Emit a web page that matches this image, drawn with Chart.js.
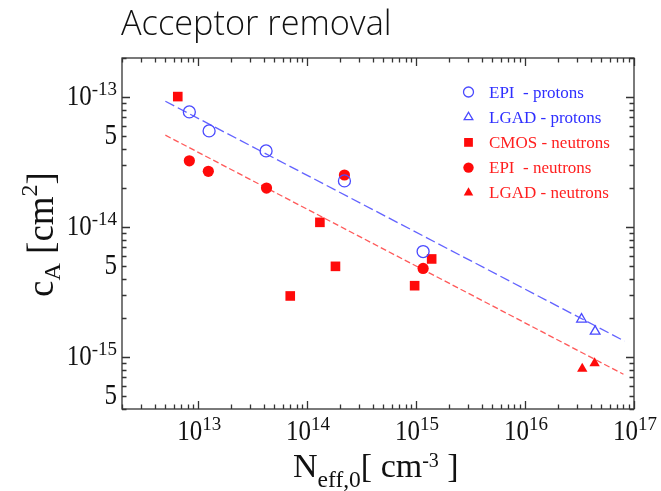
<!DOCTYPE html>
<html>
<head>
<meta charset="utf-8">
<script src="https://cdn.jsdelivr.net/npm/chart.js@4"></script>
<style>
  html, body { margin: 0; padding: 0; background: #fff; }
  #wrap { position: relative; width: 661px; height: 491px; }
</style>
</head>
<body>
<div id="wrap"><canvas id="c"></canvas></div>
<script>
// Acceptor removal coefficient c_A versus initial doping N_eff,0
const epiProtonsX   = [8.3e12, 1.26e13, 4.2e13, 2.2e14, 1.16e15];
const epiProtonsY   = [7.7e-14, 5.5e-14, 3.86e-14, 2.27e-14, 6.5e-15];
const lgadProtonsX  = [3.3e16, 4.4e16];
const lgadProtonsY  = [1.96e-15, 1.58e-15];
const cmosNeutronsX = [6.5e12, 7.0e13, 1.31e14, 1.82e14, 9.7e14, 1.39e15];
const cmosNeutronsY = [1.01e-13, 2.96e-15, 1.09e-14, 5.0e-15, 3.55e-15, 5.7e-15];
const epiNeutronsX  = [8.3e12, 1.24e13, 4.24e13, 2.2e14, 1.16e15];
const epiNeutronsY  = [3.24e-14, 2.69e-14, 2.0e-14, 2.52e-14, 4.82e-15];
const lgadNeutronsX = [3.35e16, 4.35e16];
const lgadNeutronsY = [8.15e-16, 9.0e-16];

// power-law fits (end points)
const protonFitX  = [5e12, 8.2e16];
const protonFitY  = [9.3e-14, 1.33e-15];
const neutronFitX = [5e12, 8.0e16];
const neutronFitY = [5.1e-14, 7.4e-16];

const seriesLabels = ['EPI  - protons', 'LGAD - protons', 'CMOS - neutrons', 'EPI  - neutrons', 'LGAD - neutrons'];
const xTickValues = [1e13, 1e14, 1e15, 1e16, 1e17];
const yTickValues = [1e-13, 5e-14, 1e-14, 5e-15, 1e-15, 5e-16];

const BLUE = '#4a4aff';
const BLUE_TEXT = '#2f2fff';
const RED = '#ff0a0a';
const RED_TEXT = '#ff1f1f';
const SERIF = '"Liberation Serif", "Times New Roman", serif';

const pts = (xs, ys) => xs.map((x, i) => ({ x, y: ys[i] }));

const datasets = [
  { label: seriesLabels[0], data: pts(epiProtonsX, epiProtonsY), pointStyle: 'circle', pointRadius: 6,
    borderColor: BLUE, backgroundColor: 'rgba(0,0,0,0)', borderWidth: 1.3, legendRadius: 5, textColor: BLUE_TEXT },
  { label: seriesLabels[1], data: pts(lgadProtonsX, lgadProtonsY), pointStyle: 'triangle', pointRadius: 5.6,
    borderColor: BLUE, backgroundColor: 'rgba(0,0,0,0)', borderWidth: 1.3, legendRadius: 5, textColor: BLUE_TEXT },
  { label: seriesLabels[2], data: pts(cmosNeutronsX, cmosNeutronsY), pointStyle: 'rect', pointRadius: 6.8,
    borderColor: RED, backgroundColor: RED, borderWidth: 0, legendRadius: 6.2, textColor: RED_TEXT },
  { label: seriesLabels[3], data: pts(epiNeutronsX, epiNeutronsY), pointStyle: 'circle', pointRadius: 5.6,
    borderColor: RED, backgroundColor: RED, borderWidth: 0, legendRadius: 5.2, textColor: RED_TEXT },
  { label: seriesLabels[4], data: pts(lgadNeutronsX, lgadNeutronsY), pointStyle: 'triangle', pointRadius: 6,
    borderColor: RED, backgroundColor: RED, borderWidth: 0, legendRadius: 5.5, textColor: RED_TEXT },
  { label: 'protons fit', data: pts(protonFitX, protonFitY), showLine: true, pointRadius: 0,
    borderColor: 'rgba(70,70,255,0.85)', borderWidth: 1.3, borderDash: [10, 4], fill: false },
  { label: 'neutrons fit', data: pts(neutronFitX, neutronFitY), showLine: true, pointRadius: 0,
    borderColor: 'rgba(255,60,60,0.85)', borderWidth: 1.3, borderDash: [6, 3], fill: false }
];

function font(size) { return size + 'px ' + SERIF; }

// draw a run of text pieces (with sub/superscripts) starting at x on baseline y
function richWidth(ctx, parts) {
  let w = 0;
  for (const p of parts) { ctx.font = p.font; w += ctx.measureText(p.t).width * (p.sx || 1); }
  return w;
}
function drawRich(ctx, parts, x, y) {
  let cx = x;
  for (const p of parts) {
    ctx.font = p.font;
    ctx.save();
    ctx.translate(cx, y + (p.dy || 0));
    ctx.scale(p.sx || 1, p.sy || 1);
    ctx.fillText(p.t, 0, 0);
    ctx.restore();
    cx += ctx.measureText(p.t).width * (p.sx || 1);
  }
}
function tickParts(v) {
  const e = Math.floor(Math.log10(v) + 1e-9);
  const m = Math.round(v / Math.pow(10, e));
  if (m === 1) {
    return [{ t: '10', font: font(25), sy: 1.17 }, { t: String(e), font: font(19), dy: -10 }];
  }
  return [{ t: String(m), font: font(25), sy: 1.17 }];
}

const decorations = {
  id: 'decorations',
  afterDraw(chart) {
    const ctx = chart.ctx;
    const xs = chart.scales.x, ys = chart.scales.y;
    const a = chart.chartArea;
    ctx.save();

    // heading
    ctx.fillStyle = '#111';
    ctx.textAlign = 'left';
    ctx.textBaseline = 'alphabetic';
    ctx.font = '300 34.3px "Open Sans", sans-serif';
    ctx.fillText('Acceptor removal', 121, 35);

    // frame
    ctx.strokeStyle = '#333';
    ctx.lineWidth = 1.3;
    ctx.strokeRect(a.left, a.top, a.right - a.left, a.bottom - a.top);

    // inward ticks on all four sides
    const logTicks = (scale) => {
      const out = [];
      const lo = Math.floor(Math.log10(scale.min)), hi = Math.ceil(Math.log10(scale.max));
      for (let d = lo; d <= hi; d++) {
        for (let m = 1; m <= 9; m++) {
          const v = m * Math.pow(10, d);
          if (v >= scale.min * 0.999 && v <= scale.max * 1.001) out.push({ v, major: m === 1 });
        }
      }
      return out;
    };
    ctx.beginPath();
    for (const t of logTicks(xs)) {
      const px = Math.round(xs.getPixelForValue(t.v)) + 0.5;
      const len = t.major ? 8 : 4.5;
      ctx.moveTo(px, a.bottom); ctx.lineTo(px, a.bottom - len);
      ctx.moveTo(px, a.top); ctx.lineTo(px, a.top + len);
    }
    for (const t of logTicks(ys)) {
      const py = Math.round(ys.getPixelForValue(t.v)) + 0.5;
      const len = t.major ? 8 : 4.5;
      ctx.moveTo(a.left, py); ctx.lineTo(a.left + len, py);
      ctx.moveTo(a.right, py); ctx.lineTo(a.right - len, py);
    }
    ctx.stroke();

    // tick labels
    ctx.fillStyle = '#111';
    for (const v of xTickValues) {
      const parts = tickParts(v);
      const w = richWidth(ctx, parts);
      drawRich(ctx, parts, xs.getPixelForValue(v) - w / 2 + 1, a.bottom + 31);
    }
    for (const v of yTickValues) {
      const parts = tickParts(v);
      const w = richWidth(ctx, parts);
      drawRich(ctx, parts, a.left - 5 - w, ys.getPixelForValue(v) + 8);
    }

    // x axis title
    const xt = [
      { t: 'N', font: font(34) },
      { t: 'eff,0', font: font(23.5), dy: 10 },
      { t: '[ cm', font: font(34) },
      { t: '-3', font: font(20), dy: -10 },
      { t: ' ]', font: font(34) }
    ];
    const xw = richWidth(ctx, xt);
    drawRich(ctx, xt, 293, 477);

    // y axis title (rotated)
    const yt = [
      { t: 'c', font: font(37) },
      { t: 'A', font: font(24), dy: 7 },
      { t: ' [cm', font: font(37) },
      { t: '2', font: font(24), dy: -16 },
      { t: ']', font: font(37) }
    ];
    const yw = richWidth(ctx, yt);
    ctx.save();
    ctx.translate(53, (a.top + a.bottom) / 2 + 1);
    ctx.rotate(-Math.PI / 2);
    drawRich(ctx, yt, -yw / 2, 0);
    ctx.restore();

    // legend
    for (let i = 0; i < seriesLabels.length; i++) {
      const ds = chart.data.datasets[i];
      const cy = 92 + i * 25.2;
      ctx.fillStyle = ds.backgroundColor;
      ctx.strokeStyle = ds.borderColor;
      ctx.lineWidth = ds.borderWidth || 1;
      Chart.helpers.drawPoint(ctx, {
        pointStyle: ds.pointStyle, rotation: 0, radius: ds.legendRadius, borderWidth: ds.borderWidth
      }, 468.5, cy);
      ctx.fillStyle = ds.textColor;
      ctx.font = font(17);
      ctx.fillText(ds.label, 489, cy + 5.5);
    }
    ctx.restore();
  }
};

new Chart(document.getElementById('c'), {
  type: 'scatter',
  data: { datasets },
  options: {
    responsive: true,
    maintainAspectRatio: false,
    animation: false,
    layout: { padding: { left: 122, right: 27, top: 58, bottom: 82 } },
    plugins: { legend: { display: false }, tooltip: { enabled: false } },
    scales: {
      x: { type: 'logarithmic', min: 2e12, max: 1e17, bounds: 'data', display: false },
      y: { type: 'logarithmic', min: 4e-16, max: 2e-13, bounds: 'data', display: false }
    }
  },
  plugins: [decorations]
});
</script>
</body>
</html>
